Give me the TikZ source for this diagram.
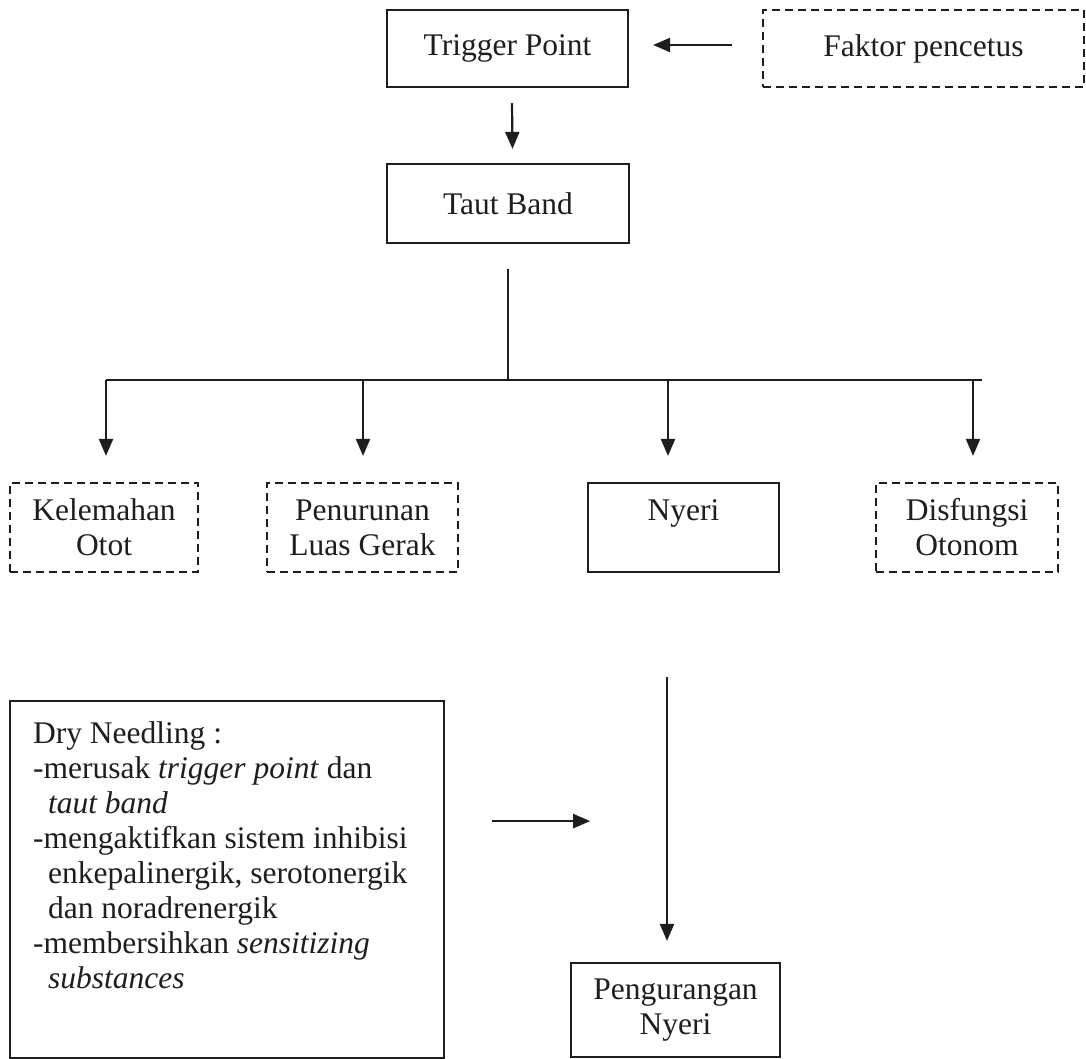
\documentclass[tikz,border=0pt]{standalone}
\usepackage{fontspec}
\setmainfont{Liberation Serif}
\usetikzlibrary{arrows.meta}
\definecolor{ink}{HTML}{1E1E1E}
\begin{document}
\begin{tikzpicture}[x=1pt,y=-1pt,
  every node/.style={font=\fontsize{31.5}{35}\selectfont, text=ink},
  box/.style={draw=ink, line width=2.2pt, align=center, inner sep=0pt},
  dbox/.style={box, dash pattern=on 8pt off 5pt},
  arr/.style={draw=ink, line width=2.2pt, -{Triangle[length=17pt,width=14pt]}},
  ln/.style={draw=ink, line width=2.2pt}]
\useasboundingbox[fill=white] (0,0) rectangle (1086,1059);

% top row
\node[box, minimum width=241pt, minimum height=77pt] (tp) at (507.5,48.5) {Trigger Point};
\node[dbox, minimum width=321pt, minimum height=77pt] (fak) at (923.5,48.5) {Faktor pencetus};
\node[box, minimum width=242pt, minimum height=79pt] (taut) at (508,203.5) {Taut Band};

% middle row
\node[dbox, minimum width=188pt, minimum height=89pt] (kel) at (104,527.5) {Kelemahan\\Otot};
\node[dbox, minimum width=191pt, minimum height=89pt] (pen) at (362.5,527.5) {Penurunan\\Luas Gerak};
\node[box, minimum width=191pt, minimum height=89pt] (nyeri) at (683.5,527.5) {Nyeri\\\phantom{Otot}};
\node[dbox, minimum width=182pt, minimum height=89pt] (dis) at (967,527.5) {Disfungsi\\Otonom};

% bottom
\node[box, anchor=north west, minimum width=434pt, minimum height=357pt,
      inner xsep=23pt, inner ysep=21pt, align=left] (dry) at (9,700)
  {\parbox[t][315pt][t]{388pt}{%
   \mbox{Dry Needling :}\\
   \mbox{-merusak \textit{trigger point} dan}\\
   \mbox{\hspace*{15pt}\textit{taut band}}\\
   \mbox{-mengaktifkan sistem inhibisi}\\
   \mbox{\hspace*{15pt}enkepalinergik, serotonergik}\\
   \mbox{\hspace*{15pt}dan noradrenergik}\\
   \mbox{-membersihkan \textit{sensitizing}}\\
   \mbox{\hspace*{15pt}\textit{substances}}}};
\node[box, minimum width=209pt, minimum height=94pt] (peng) at (675.5,1010) {Pengurangan\\Nyeri};

% connectors
\draw[arr] ([xshift=-30pt,yshift=3.5pt]fak.west) -- ([xshift=24pt,yshift=3.5pt]tp.east);
\draw[arr] ([xshift=4.5pt,yshift=-15pt]tp.south) -- ([xshift=4.5pt,yshift=14pt]taut.north);

\coordinate (busL) at (106,380);
\coordinate (busR) at (982,380);
\draw[ln] ([yshift=-25pt]taut.south) -- (taut.south |- busL);
\draw[ln] (busL) -- (busR);
\draw[arr] ([xshift=2pt]kel.north |- busL) -- ([xshift=2pt,yshift=26pt]kel.north);
\draw[arr] ([xshift=0.5pt]pen.north |- busL) -- ([xshift=0.5pt,yshift=26pt]pen.north);
\draw[arr] ([xshift=-15.5pt]nyeri.north |- busL) -- ([xshift=-15.5pt,yshift=26pt]nyeri.north);
\draw[arr] ([xshift=6pt]dis.north |- busL) -- ([xshift=6pt,yshift=26pt]dis.north);

\draw[arr] ([xshift=-16.5pt,yshift=-104pt]nyeri.south) -- ([xshift=-8.5pt,yshift=21pt]peng.north);
\draw[arr] ([xshift=47pt,yshift=58.5pt]dry.east) -- ++(98,0);
\end{tikzpicture}
\end{document}
